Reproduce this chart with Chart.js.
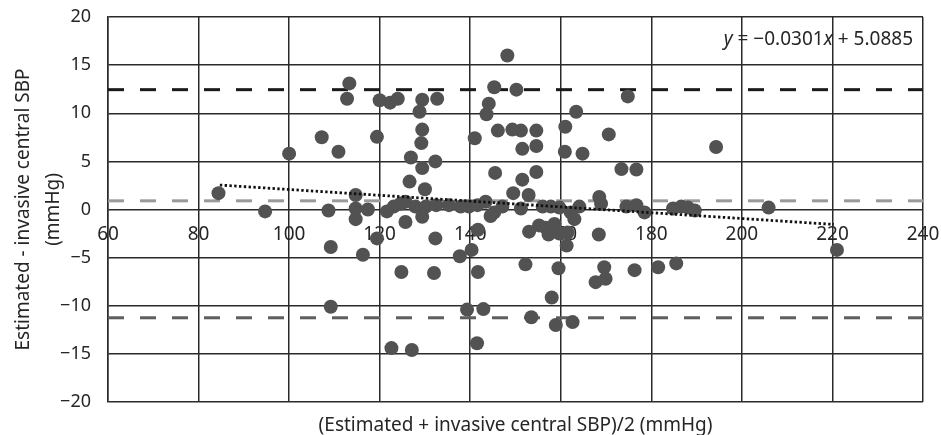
<!DOCTYPE html>
<html>
<head>
<meta charset="utf-8">
<script src="https://cdn.jsdelivr.net/npm/chart.js@4.4.1/dist/chart.umd.min.js"></script>
<style>
  html, body { margin: 0; padding: 0; background: #fff; }
  #wrap { width: 941px; height: 435px; position: relative; }
</style>
</head>
<body>
<div id="wrap"><canvas id="baChart"></canvas></div>
<script>
// Bland-Altman: mean of the two methods (x) vs difference (y)
const meanSBP = [
  148.2, 113.3, 145.3, 150.2, 174.8, 112.8, 120.0, 122.3, 124.0, 129.4, 132.7, 144.1,
  128.8, 163.4, 143.6, 161.0, 129.4, 146.1, 149.3, 151.2, 154.6, 170.6, 107.2, 119.4,
  141.0, 129.2, 154.6, 194.3, 151.5, 110.9, 160.9, 100.0, 164.8, 126.9, 132.3, 129.4,
  173.4, 176.7, 154.6, 145.5, 151.5, 126.6, 130.0, 84.4, 149.5, 114.7, 152.9, 168.5,
  94.7, 108.7, 114.7, 117.4, 121.6, 123.1, 124.6, 125.7, 127.9, 130.2, 132.5, 135.3,
  137.9, 139.7, 141.6, 143.4, 145.3, 147.1, 151.2, 156.0, 157.8, 159.7, 162.2, 164.1,
  168.9, 174.5, 176.7, 178.5, 184.8, 186.6, 188.1, 189.6, 205.9,
  114.7, 125.7, 129.4, 144.5, 163.0, 155.2, 156.7, 158.6, 141.7, 153.0, 157.3, 159.7,
  161.5, 168.4, 119.4, 132.3, 161.3, 109.2, 221.0, 140.3, 116.3, 137.7, 152.2, 185.5,
  169.6, 181.5, 159.5, 176.3, 124.8, 141.7, 132.0, 169.9, 167.7, 158.0, 109.2, 139.3,
  142.9, 153.5, 162.6, 158.9, 141.5, 122.6, 127.1
];
const diffSBP = [
  16.0, 13.1, 12.7, 12.45, 11.75, 11.5, 11.35, 11.1, 11.5, 11.4, 11.5, 11.0,
  10.15, 10.15, 9.9, 8.6, 8.3, 8.2, 8.3, 8.2, 8.2, 7.8, 7.5, 7.55,
  7.4, 6.9, 6.6, 6.5, 6.3, 6.0, 6.0, 5.8, 5.8, 5.4, 5.0, 4.3,
  4.2, 4.15, 3.9, 3.8, 3.1, 2.9, 2.1, 1.7, 1.7, 1.5, 1.5, 1.3,
  -0.2, -0.1, 0.1, 0.0, -0.2, 0.3, 0.6, 0.8, 0.3, 0.3, 0.45, 0.45,
  0.3, 0.3, 0.45, 0.8, -0.3, 0.3, 0.1, 0.3, 0.3, 0.2, -0.3, 0.3,
  0.6, 0.3, 0.45, -0.3, 0.1, 0.3, 0.2, -0.1, 0.2,
  -1.0, -1.3, -0.75, -0.67, -1.0, -1.65, -1.9, -1.5, -2.1, -2.3, -2.6, -2.5,
  -2.4, -2.6, -3.0, -3.0, -3.75, -3.9, -4.2, -4.2, -4.7, -4.85, -5.7, -5.6,
  -6.0, -6.0, -6.1, -6.3, -6.5, -6.5, -6.6, -7.2, -7.55, -9.15, -10.1, -10.4,
  -10.35, -11.2, -11.7, -12.0, -13.9, -14.4, -14.6
];

const xTicks = [60, 80, 100, 120, 140, 160, 180, 200, 220, 240];
const yTicks = [-20, -15, -10, -5, 0, 5, 10, 15, 20];

// limits of agreement and mean difference
const upperLimit = 12.45;
const meanDiff = 0.9;
const lowerLimit = -11.25;

// linear trendline ends (y = -0.0301x + 5.0885)
const trendX = [84.7, 220.3];
const trendY = [2.54, -1.55];

const FONT = "'Noto Sans', 'DejaVu Sans', sans-serif";
const TEXT = '#262626';
const GRID = '#2a2a2a';

function hLine(v) {
  return [{ x: xTicks[0], y: v }, { x: xTicks[xTicks.length - 1], y: v }];
}

const equationPlugin = {
  id: 'equation',
  afterDatasetsDraw(chart) {
    const ctx = chart.ctx;
    const parts = [['y', true], [' = \u22120.0301', false], ['x', true], [' + 5.0885', false]];
    ctx.save();
    ctx.fillStyle = TEXT;
    ctx.textBaseline = 'alphabetic';
    let total = 0;
    const widths = parts.map(p => {
      ctx.font = (p[1] ? 'italic ' : '') + '19px ' + FONT;
      const w = ctx.measureText(p[0]).width;
      total += w;
      return w;
    });
    let x = 913 - total;
    parts.forEach((p, i) => {
      ctx.font = (p[1] ? 'italic ' : '') + '19px ' + FONT;
      ctx.fillText(p[0], x, 45);
      x += widths[i];
    });
    ctx.restore();
  }
};

const ctx = document.getElementById('baChart').getContext('2d');

new Chart(ctx, {
  type: 'scatter',
  data: {
    datasets: [
      {
        type: 'line',
        data: trendX.map((x, i) => ({ x: x, y: trendY[i] })),
        borderColor: '#111',
        borderWidth: 2.8,
        borderDash: [2.4, 2.4],
        pointRadius: 0,
        fill: false,
        order: 0
      },
      {
        data: meanSBP.map((x, i) => ({ x: x, y: diffSBP[i] })),
        backgroundColor: '#525252',
        borderWidth: 0,
        pointRadius: 7,
        order: 1
      },
      {
        type: 'line',
        data: hLine(upperLimit),
        borderColor: '#1a1a1a',
        borderWidth: 3,
        borderDash: [16, 16],
        pointRadius: 0,
        order: 2
      },
      {
        type: 'line',
        data: hLine(meanDiff),
        borderColor: '#9a9a9a',
        borderWidth: 3,
        borderDash: [16, 16],
        pointRadius: 0,
        order: 2
      },
      {
        type: 'line',
        data: hLine(lowerLimit),
        borderColor: '#5e5e5e',
        borderWidth: 3,
        borderDash: [16, 16],
        pointRadius: 0,
        order: 2
      }
    ]
  },
  options: {
    responsive: true,
    maintainAspectRatio: false,
    animation: false,
    layout: { padding: { top: 17, right: 18, bottom: 0, left: 0 } },
    plugins: {
      legend: { display: false },
      tooltip: { enabled: false }
    },
    scales: {
      x: {
        type: 'linear',
        position: { y: 0 },
        min: 60,
        max: 240,
        afterBuildTicks: s => { s.ticks = xTicks.map(v => ({ value: v })); },
        afterFit: s => { s.paddingLeft = 0; s.paddingRight = 0; },
        ticks: { color: TEXT, font: { family: FONT, size: 19 }, padding: 14 },
        grid: { color: GRID, lineWidth: 1.5, drawTicks: false },
        border: { display: false }
      },
      x2: {
        type: 'linear',
        position: 'bottom',
        min: 60,
        max: 240,
        ticks: { display: false },
        grid: { display: false },
        border: { display: false },
        afterFit: s => { s.height = 33; s.paddingLeft = 0; s.paddingRight = 0; },
        title: {
          display: true,
          text: '(Estimated + invasive central SBP)/2 (mmHg)',
          color: TEXT,
          font: { family: FONT, size: 19 },
          padding: { top: 0, bottom: -2 }
        }
      },
      y: {
        type: 'linear',
        min: -20,
        max: 20,
        afterBuildTicks: s => { s.ticks = yTicks.map(v => ({ value: v })); },
        afterFit: s => { s.width = 108; s.paddingTop = 0; s.paddingBottom = 0; },
        ticks: {
          color: TEXT,
          font: { family: FONT, size: 18 },
          padding: 17,
          callback: v => String(v).replace('-', '\u2212')
        },
        grid: { color: GRID, lineWidth: 1.5, drawTicks: false },
        border: { color: GRID, width: 1.5 },
        title: {
          display: true,
          text: ['Estimated - invasive central SBP', '(mmHg)'],
          color: TEXT,
          font: { family: FONT, size: 19, lineHeight: 1.6 },
          padding: { top: 8, bottom: 0 }
        }
      }
    }
  },
  plugins: [equationPlugin]
});
</script>
</body>
</html>
